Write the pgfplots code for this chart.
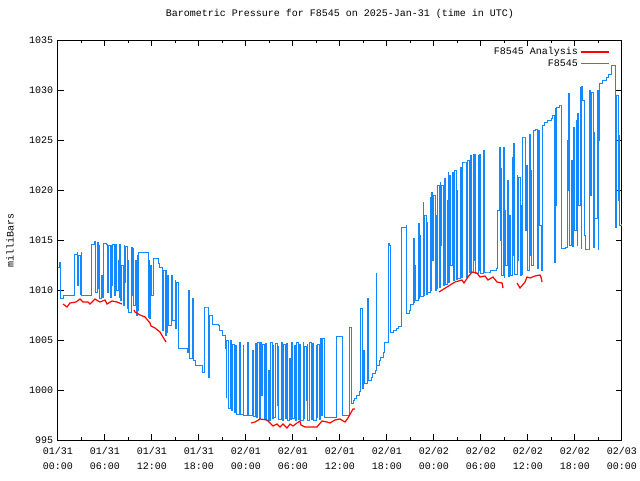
\documentclass[border=0pt]{standalone}
\usepackage{fontspec}
\setmainfont{Liberation Mono}
\usepackage{pgfplots}
\pgfplotsset{compat=1.18}
\definecolor{obsblue}{RGB}{20,136,255}
\begin{document}
\fontsize{7.5}{10.5}\selectfont
\begin{tikzpicture}
\useasboundingbox (0,0) rectangle (480pt,360pt);
\begin{axis}[
 at={(43.5pt,30pt)}, anchor=south west,
 scale only axis, width=423pt, height=300pt,
 xmin=0, xmax=72, ymin=995, ymax=1035,
 xtick={0,6,...,72}, minor xtick={3,9,...,69},
 ytick={995,1000,...,1035},
 xticklabels={{01/31\\00:00},{01/31\\06:00},{01/31\\12:00},{01/31\\18:00},{02/01\\00:00},{02/01\\06:00},{02/01\\12:00},{02/01\\18:00},{02/02\\00:00},{02/02\\06:00},{02/02\\12:00},{02/02\\18:00},{02/03\\00:00}},
 xticklabel style={align=center, font=\fontsize{7.5}{11}\selectfont, yshift=-3pt},
 yticklabel style={font=\fontsize{7.5}{10.5}\selectfont, xshift=-1pt},
 /pgf/number format/assume math mode=true,
 /pgf/number format/1000 sep={},
 tick align=inside,
 major tick length=4.5pt, minor tick length=2.25pt,
 tick style={black, line width=0.75pt},
 axis line style={line width=0.75pt},
 title={Barometric Pressure for F8545 on 2025-Jan-31 (time in UTC)},
 title style={at={(0.5,1)}, anchor=base, yshift=12pt, font=\fontsize{7.5}{10.5}\selectfont},
 ylabel={milliBars},
 ylabel style={at={(axis description cs:-0.085,0.5)}, anchor=center, font=\fontsize{7.5}{10.5}\selectfont},
 legend style={at={(axis description cs:1,1)}, anchor=north east, draw=none, fill=none, xshift=-6pt, yshift=-1.5pt, font=\fontsize{7.5}{9}\selectfont, row sep=-1.6pt},
 legend cell align=right,
 legend plot pos=right,
 legend image code/.code={\draw[line width=0.9pt] (0pt,0pt) -- (21pt,0pt);},
]
\addlegendimage{red}
\addlegendentry{F8545 Analysis}
\addlegendimage{obsblue}
\addlegendentry{F8545}

\addplot[obsblue, line width=0.75pt, const plot, forget plot] coordinates {
(0,1012.3) (0.13,1012.8) (0.38,1009.2) (0.64,1009.5) (2.17,1013.6) (2.43,1013.8) (2.55,1010.5) (2.68,1013.5) (2.81,1009.6) (2.94,1013.8) (3.06,1009.5) (4.34,1014.6) (4.60,1014.9) (4.85,1009.8) (4.98,1014.8) (5.11,1010.2) (5.23,1014.5) (5.36,1009.2) (5.49,1011.5) (5.62,1009.3) (5.87,1014.7) (6.13,1014.6) (6.38,1009.8) (6.51,1014.5) (6.64,1009.3) (6.77,1014.5) (6.89,1010.5) (7.02,1014.6) (7.15,1009.5) (7.40,1014.6) (7.53,1010) (7.66,1013) (7.79,1009.3) (7.91,1014.6) (8.04,1009.0) (8.17,1012.5) (8.30,1008.5) (8.43,1014.5) (8.55,1010.8) (8.68,1014.4) (8.81,1008.2) (8.94,1013.0) (9.06,1007.8) (9.32,1014.3) (9.45,1009.5) (9.57,1014.2) (9.70,1008.5) (9.83,1013.0) (9.96,1007.5) (10.09,1013.5) (10.21,1008) (10.34,1013.8) (11.49,1007.3) (11.62,1013) (11.74,1007.2) (11.87,1012.5) (12.00,1009.5) (12.13,1013.2) (12.77,1012.7) (13.02,1012.3) (13.28,1006) (13.53,1012) (13.66,1005.5) (13.79,1012) (13.91,1005.8) (14.04,1011.5) (14.17,1006.5) (14.55,1011.5) (14.68,1007) (14.94,1011) (15.06,1006.2) (15.19,1010.8) (15.32,1004.2) (16.47,1003.8) (16.72,1010) (16.85,1003.2) (17.23,1009.2) (17.36,1003) (17.49,1002.5) (18.51,1001.8) (18.64,1008.3) (19.02,1008.3) (19.15,1001.3) (19.28,1007.5) (19.66,1006.6) (20.43,1006.5) (20.68,1006) (21.06,1005.5) (21.32,1004.2) (21.45,999.3) (21.57,1005) (21.83,998.2) (21.96,1005) (22.09,998.0) (22.34,1004.6) (22.47,997.8) (22.72,1004.5) (22.85,997.6) (23.23,1004.8) (23.36,997.6) (23.62,1004.5) (23.74,997.5) (24.13,1004.8) (24.26,997.5) (24.89,1004) (25.02,997.4) (25.15,1004.7) (25.28,997.3) (25.53,1004.8) (25.66,997.2) (25.91,1004.8) (26.04,999.5) (26.17,1004.6) (26.30,997.1) (26.55,1004.7) (26.68,997.0) (26.81,1002) (26.94,997.0) (27.19,1004.8) (27.32,997.2) (27.45,1004.5) (27.57,997.3) (27.83,1004.7) (27.96,998.5) (28.09,1004.4) (28.21,997.1) (28.47,1004.8) (28.60,997.0) (28.85,1004.6) (28.98,997.2) (29.23,1004.7) (29.36,997.0) (29.49,1003.2) (29.62,997.1) (29.87,1004.8) (30.00,997.2) (30.13,1004.5) (30.26,997.0) (30.51,1004.8) (30.64,997.1) (30.89,1004.6) (31.02,997.0) (31.28,1004.8) (31.40,997.2) (31.53,1004.4) (31.66,999) (31.79,1004.6) (31.91,997.0) (32.17,1004.8) (32.30,997.1) (32.55,1004.7) (32.68,997.0) (32.94,1004.5) (33.06,997.3) (33.19,1004.6) (33.32,997.1) (33.57,1005.2) (33.70,997.5) (33.83,1005.2) (33.96,997.3) (35.49,1005.4) (36.26,1005.3) (36.38,997.5) (37.15,1006.3) (37.53,998.7) (37.66,999.0) (37.91,999.2) (38.17,999.5) (38.43,999.9) (38.68,1008.2) (38.81,1000.2) (39.06,1004.0) (39.19,1000.7) (39.45,1009.2) (39.70,1001.0) (39.96,1001.3) (40.21,1001.7) (40.47,1002.0) (40.60,1011.7) (40.72,1002.5) (40.98,1003.0) (41.23,1003.3) (41.49,1003.8) (41.74,1004.8) (42.13,1014.7) (42.38,1014.5) (42.51,1005.8) (42.77,1006.0) (43.15,1006.2) (43.53,1006.4) (43.91,1016.3) (44.43,1016.5) (44.55,1007.7) (44.81,1008.0) (45.06,1008.6) (45.32,1015.2) (45.45,1008.8) (45.57,1012.5) (45.70,1009.0) (45.96,1016.7) (46.09,1009.2) (46.21,1015.5) (46.34,1009.4) (46.60,1018.8) (46.72,1009.5) (46.85,1017.5) (46.98,1009.6) (47.11,1016.8) (47.23,1009.8) (47.49,1019.3) (47.62,1010.0) (47.74,1019.8) (47.87,1013) (48.00,1019.5) (48.13,1010.0) (48.26,1017.5) (48.38,1010.2) (48.51,1020.5) (48.64,1010.3) (48.77,1020.8) (48.89,1014.5) (49.02,1020.5) (49.15,1010.5) (49.40,1021.2) (49.53,1010.6) (49.66,1019.0) (49.79,1021.8) (49.91,1010.8) (50.04,1021.5) (50.17,1012.5) (50.30,1021.8) (50.43,1011.0) (50.68,1022.0) (50.81,1011.1) (50.94,1020.0) (51.06,1011.2) (51.32,1022.3) (51.45,1011.3) (51.70,1022.8) (52.09,1022.8) (52.21,1011.3) (52.34,1023.0) (52.47,1011.8) (52.72,1023.5) (52.85,1011.8) (52.98,1023.6) (53.11,1013) (53.23,1023.6) (53.36,1011.7) (53.62,1023.5) (53.74,1012) (53.87,1023.6) (54.00,1011.7) (54.38,1024) (54.51,1011.8) (54.89,1011.8) (55.15,1012.0) (56.04,1012.2) (56.17,1018.0) (56.30,1024.3) (56.43,1015.0) (56.55,1022.2) (56.68,1011.5) (56.81,1024.3) (56.94,1011.3) (57.06,1018.0) (57.19,1012.5) (57.32,1021.0) (57.45,1011.4) (57.70,1017.5) (57.83,1011.5) (57.96,1023.3) (58.09,1013.5) (58.21,1024.7) (58.34,1011.6) (58.60,1021.5) (58.72,1013.0) (58.85,1021.3) (58.98,1011.5) (59.11,1018.5) (59.23,1011.6) (59.36,1025.3) (59.62,1025.3) (59.74,1016.0) (59.87,1022.5) (60.00,1012.0) (60.13,1025.6) (60.26,1013.5) (60.38,1022.0) (60.51,1012.5) (60.64,1026.0) (61.02,1026.1) (61.15,1012.2) (61.40,1026.0) (61.53,1016.5) (61.66,1012.0) (61.79,1026.5) (62.17,1026.8) (62.55,1027.0) (62.94,1027.2) (63.19,1027.5) (63.32,1012.8) (63.45,1028.2) (63.57,1018.5) (63.70,1028.3) (63.96,1028.5) (64.21,1028.5) (64.34,1014.2) (64.85,1014.3) (64.98,1025.0) (65.11,1020.0) (65.23,1029.7) (65.36,1014.5) (65.49,1023.0) (65.62,1014.4) (65.87,1026.3) (66.00,1016.0) (66.13,1027.0) (66.26,1014.5) (66.38,1027.7) (66.51,1018.5) (66.64,1030.3) (66.77,1014.2) (66.89,1030.4) (67.02,1029.0) (67.15,1015.5) (67.28,1014.1) (67.79,1014.1) (67.91,1030.0) (68.04,1019.5) (68.17,1029.8) (68.30,1014.3) (68.43,1025.8) (68.55,1017.2) (68.81,1030.0) (68.94,1014.1) (69.06,1025.0) (69.19,1030.7) (69.57,1031.0) (69.96,1031.3) (70.34,1031.6) (70.60,1031.9) (70.72,1032.5) (71.11,1032.1) (71.23,1016.3) (71.36,1029.5) (71.49,1019.0) (71.62,1025.5) (71.74,1016.5) (72.00,1016.6)
};

\addplot[red, line width=0.9pt, forget plot] coordinates {
(0.64,1008.6) (1.15,1008.3) (1.53,1008.7) (2.30,1008.8) (2.81,1009.1) (3.19,1008.8) (3.83,1008.8) (4.09,1008.6) (4.72,1009.1) (5.36,1008.8) (6.00,1009.0) (6.26,1008.6) (6.89,1008.9) (7.53,1008.8) (8.17,1008.6)
};
\addplot[red, line width=0.9pt, forget plot] coordinates {
(9.70,1008.0) (9.83,1007.8) (10.47,1007.5) (11.11,1007.3) (11.74,1006.7) (11.87,1006.4) (12.38,1006.2) (13.02,1005.8) (13.40,1005.3) (13.79,1004.8)
};
\addplot[red, line width=0.9pt, forget plot] coordinates {
(24.64,996.7) (25.15,996.8) (25.79,997.1) (26.68,997.0) (27.06,996.7) (27.45,996.4) (27.96,996.6) (28.34,996.3) (28.72,996.6) (29.23,996.2) (29.62,996.6) (30.00,996.4) (30.51,996.7) (30.89,996.9) (31.02,996.5) (31.53,996.3) (33.06,996.3) (33.70,996.9) (34.34,996.8) (34.72,996.7) (35.36,997.0) (36.00,997.1) (36.64,996.8) (37.02,997.2) (37.66,998.1) (37.91,998.1)
};
\addplot[red, line width=0.9pt, forget plot] coordinates {
(48.64,1009.8) (49.66,1010.3) (50.68,1010.8) (51.57,1011.0) (51.83,1010.7) (52.34,1011.3) (52.85,1011.8) (53.49,1011.7) (53.87,1011.3) (54.51,1011.4) (54.89,1011.0) (55.53,1011.3) (56.04,1010.8) (56.68,1010.7) (56.81,1010.2)
};
\addplot[red, line width=0.9pt, forget plot] coordinates {
(58.60,1010.7) (58.98,1010.2) (59.62,1010.8) (59.87,1011.3) (60.26,1011.2) (60.89,1011.4) (61.53,1011.5) (61.66,1011.3) (61.79,1010.8)
};
\end{axis}
\end{tikzpicture}
\end{document}
